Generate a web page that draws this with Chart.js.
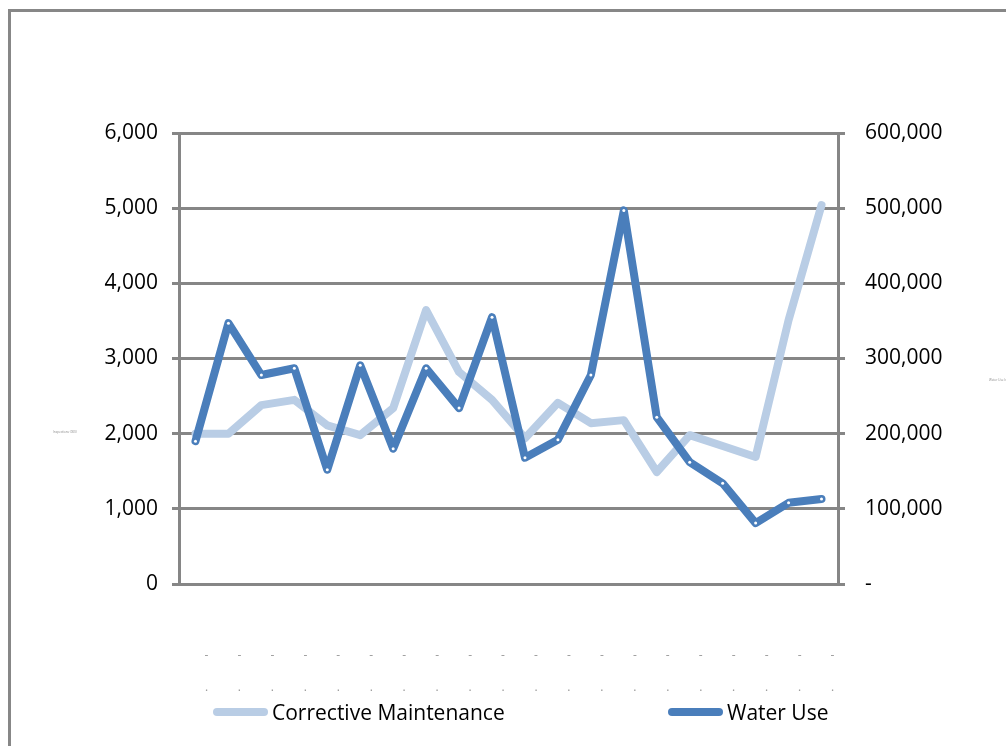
<!DOCTYPE html>
<html>
<head>
<meta charset="utf-8">
<script src="https://cdn.jsdelivr.net/npm/chart.js@4/dist/chart.umd.min.js"></script>
<style>
  body { margin: 0; background: #fff; font-family: "Open Sans", sans-serif; }
  #frame { position: absolute; left: 8px; top: 9px; width: 1020px; height: 760px; border: 3px solid #878787; }
  #wrap { position: absolute; left: 0; top: 0; width: 1006px; height: 746px; }
  #legend { position: absolute; top: 698px; left: 0; width: 1006px; height: 30px; font-size: 21px; color: #000; }
  #legend .item { position: absolute; display: flex; align-items: center; white-space: nowrap; }
  #legend .swatch { width: 55px; height: 8px; border-radius: 4px; margin-right: 4px; }
</style>
</head>
<body>
<div id="frame"></div>
<div id="wrap"><canvas id="chart"></canvas></div>
<div id="legend"></div>
<script>
// categories (labels are unreadable dashes in the source)
let categories = ['1','2','3','4','5','6','7','8','9','10','11','12','13','14','15','16','17','18','19','20']
let tickLabels = ['-', '.']

let corrective = [2000, 2000, 2380, 2450, 2110, 1980, 2340, 3645, 2820, 2450,
                  1940, 2410, 2140, 2180, 1490, 1980, 1835, 1690, 3510, 5040]
let waterUse = [190000, 347000, 278000, 287000, 152000, 291000, 180000, 287000, 234000, 355000,
                168000, 192000, 278000, 497000, 222000, 162000, 134000, 81000, 108000, 113000]

let leftTicks = [0, 1000, 2000, 3000, 4000, 5000, 6000]
let rightTicks = [0, 100000, 200000, 300000, 400000, 500000, 600000]

const grey = '#868686'
const fontFam = '"Open Sans", sans-serif'

// tiny axis titles, drawn flat like the source
const tinyTitles = {
    id: 'tinyTitles',
    afterDraw(chart) {
        const c = chart.ctx
        c.save()
        c.fillStyle = '#888'
        c.font = '3px ' + fontFam
        c.textBaseline = 'middle'
        c.fillText('Inspections (000)', 53, 432)
        c.fillText('Water Use (m3)', 989, 380)
        c.restore()
    }
}

const ctx = document.getElementById('chart').getContext('2d')
const chart = new Chart(ctx, {
    type: 'line',
    data: {
        labels: categories.map(() => tickLabels),
        datasets: [{
            label: 'Water Use',
            data: waterUse,
            yAxisID: 'y1',
            borderColor: '#4A7EBB',
            backgroundColor: '#4A7EBB',
            borderWidth: 8,
            pointRadius: 1.5,
            pointBorderWidth: 0,
            pointBackgroundColor: '#fff',
            borderJoinStyle: 'round',
            borderCapStyle: 'round'
        }, {
            label: 'Corrective Maintenance',
            data: corrective,
            yAxisID: 'y',
            borderColor: '#B9CDE5',
            backgroundColor: '#B9CDE5',
            borderWidth: 8,
            pointRadius: 0,
            borderJoinStyle: 'round',
            borderCapStyle: 'round'
        }]
    },
    options: {
        responsive: true,
        maintainAspectRatio: false,
        animation: false,
        layout: { padding: { top: 133, left: 0, right: 0, bottom: 0 } },
        plugins: {
            tooltip: { enabled: false },
            legend: { display: false }
        },
        scales: {
            x: {
                offset: true,
                grid: { display: false },
                border: { display: false },
                ticks: {
                    color: '#9a9a9a',
                    padding: 48,
                    labelOffset: 11,
                    maxRotation: 0,
                    autoSkip: false,
                    font: { family: fontFam, size: 12, lineHeight: 2.65 }
                },
                afterFit: s => { s.height = 162 }
            },
            y: {
                position: 'left',
                min: 0,
                max: 6000,
                afterBuildTicks: s => { s.ticks = leftTicks.map(v => ({ value: v })) },
                grid: { color: grey, lineWidth: 3, tickLength: 7 },
                border: { color: grey, width: 3 },
                ticks: {
                    color: '#000',
                    padding: 14,
                    font: { family: fontFam, size: 21 },
                    callback: v => v.toLocaleString('en-US')
                },
                afterFit: s => { s.width = 179 }
            },
            y1: {
                position: 'right',
                min: 0,
                max: 600000,
                afterBuildTicks: s => { s.ticks = rightTicks.map(v => ({ value: v })) },
                grid: { drawOnChartArea: false, color: grey, lineWidth: 3, tickLength: 7 },
                border: { color: grey, width: 3 },
                ticks: {
                    color: '#000',
                    padding: 20,
                    font: { family: fontFam, size: 21 },
                    callback: v => v === 0 ? '-' : v.toLocaleString('en-US')
                },
                afterFit: s => { s.width = 168 }
            }
        }
    },
    plugins: [tinyTitles]
})

// legend built from the datasets, light series first
let legendX = { 'Corrective Maintenance': 213, 'Water Use': 668 }
let legend = document.getElementById('legend')
chart.data.datasets.slice().reverse().forEach(ds => {
    let item = document.createElement('div')
    item.className = 'item'
    item.style.left = legendX[ds.label] + 'px'
    item.innerHTML = '<span class="swatch" style="background:' + ds.borderColor + '"></span><span>' + ds.label + '</span>'
    legend.appendChild(item)
})
</script>
</body>
</html>
